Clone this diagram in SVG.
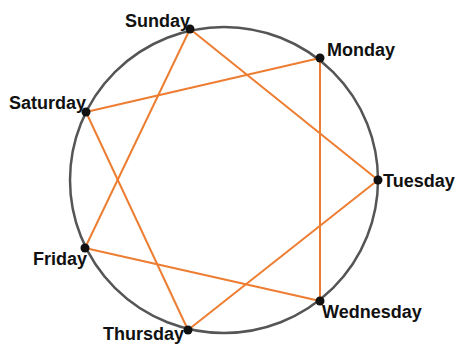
<svg xmlns="http://www.w3.org/2000/svg" width="459" height="345" viewBox="0 0 459 345">
<style>
.ring{fill:none;stroke:#555;stroke-width:2.5}
.edge{stroke:#ED7D31;stroke-width:2;fill:none}
.dot{fill:#111}
.lbl{font-family:"Liberation Sans",Arial,sans-serif;font-weight:bold;font-size:18px;fill:#111}
</style>
<rect width="459" height="345" fill="#fff"/>
<ellipse class="ring" cx="224" cy="180" rx="154" ry="153"/>
<g id="connectors">
<line class="edge" x1="190" y1="29" x2="378" y2="180"/>
<line class="edge" x1="378" y1="180" x2="188" y2="330"/>
<line class="edge" x1="188" y1="330" x2="86" y2="112"/>
<line class="edge" x1="86" y1="112" x2="320" y2="58"/>
<line class="edge" x1="320" y1="58" x2="320" y2="301"/>
<line class="edge" x1="320" y1="301" x2="85" y2="248"/>
<line class="edge" x1="85" y1="248" x2="190" y2="29"/>
</g>
<g id="sunday"><circle class="dot" cx="190" cy="29" r="4.5"/><text class="lbl" x="125" y="27">Sunday</text></g>
<g id="monday"><circle class="dot" cx="320" cy="58" r="4.5"/><text class="lbl" x="327" y="56">Monday</text></g>
<g id="tuesday"><circle class="dot" cx="378" cy="180" r="4.5"/><text class="lbl" x="383" y="187">Tuesday</text></g>
<g id="wednesday"><circle class="dot" cx="320" cy="301" r="4.5"/><text class="lbl" x="322" y="318">Wednesday</text></g>
<g id="thursday"><circle class="dot" cx="188" cy="330" r="4.5"/><text class="lbl" x="103" y="340">Thursday</text></g>
<g id="friday"><circle class="dot" cx="85" cy="248" r="4.5"/><text class="lbl" x="33" y="265">Friday</text></g>
<g id="saturday"><circle class="dot" cx="86" cy="112" r="4.5"/><text class="lbl" x="9" y="109">Saturday</text></g>
</svg>
